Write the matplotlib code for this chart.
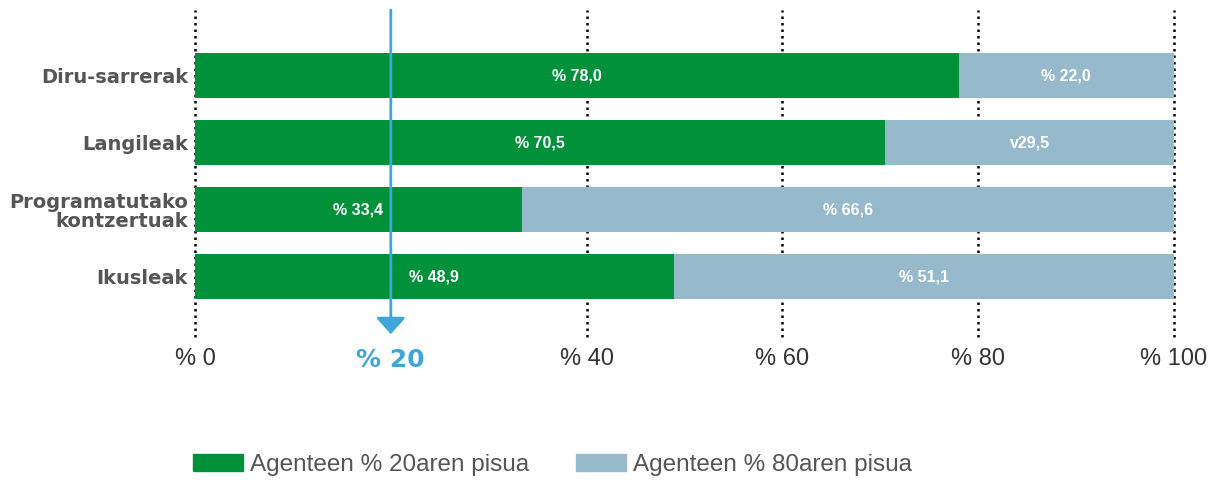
import matplotlib.pyplot as plt
from matplotlib.patches import Patch

categories = ["Diru-sarrerak", "Langileak", "Programatutako\nkontzertuak", "Ikusleak"]
top20 = [78.0, 70.5, 33.4, 48.9]
rest80 = [22.0, 29.5, 66.6, 51.1]
top20_labels = ["% 78,0", "% 70,5", "% 33,4", "% 48,9"]
rest80_labels = ["% 22,0", "v29,5", "% 66,6", "% 51,1"]
tick_values = [0, 20, 40, 60, 80, 100]
tick_labels = ["% 0", "% 20", "% 40", "% 60", "% 80", "% 100"]
legend_labels = ["Agenteen % 20aren pisua", "Agenteen % 80aren pisua"]

GREEN = "#00913a"
LIGHTBLUE = "#96b9cc"
ARROW = "#3fa6dc"

plt.rcParams["font.family"] = ["Liberation Sans", "DejaVu Sans"]

fig = plt.figure(figsize=(12.22, 4.93), dpi=100)
ax = fig.add_axes([195 / 1222, 1 - 337 / 493, (1174 - 195) / 1222, 327 / 493])

y = list(range(len(categories)))
ax.barh(y, top20, height=0.67, color=GREEN, zorder=3)
ax.barh(y, rest80, left=top20, height=0.67, color=LIGHTBLUE, zorder=3)

for i in y:
    ax.text(top20[i] / 2, i, top20_labels[i], ha="center", va="center",
            color="white", fontsize=11.5, fontweight="bold", zorder=4)
    ax.text(top20[i] + rest80[i] / 2, i, rest80_labels[i], ha="center", va="center",
            color="white", fontsize=11.5, fontweight="bold", zorder=4)

# dotted guides (20 is marked by the arrow instead)
for v in tick_values:
    if v == 20:
        continue
    ax.axvline(v, color="black", linestyle=(0, (1, 1.6)), lw=1.8, zorder=1, clip_on=False)

ax.set_xlim(0, 100)
ax.set_ylim(3.903, -0.978)
ax.annotate("", xy=(20, 3.86), xytext=(20, -0.978),
            arrowprops=dict(arrowstyle="-|>,head_length=0.5,head_width=0.45",
                            color=ARROW, lw=2, mutation_scale=20, shrinkA=0, shrinkB=0),
            zorder=5)

ax.set_yticks(y)
ax.set_yticklabels(categories, fontsize=14, fontweight="bold", color="#555555",
                   family="DejaVu Sans", linespacing=1.0)
ax.set_xticks(tick_values)
ax.set_xticklabels(tick_labels, fontsize=17, color="#333333")
ax.tick_params(axis="both", length=0)
ax.tick_params(axis="x", pad=8)
ax.tick_params(axis="y", pad=5)
lbl20 = ax.get_xticklabels()[1]
lbl20.set_color(ARROW)
lbl20.set_fontweight("bold")
lbl20.set_fontsize(18)
lbl20.set_family("DejaVu Sans")

for s in ax.spines.values():
    s.set_visible(False)

handles = [Patch(color=GREEN), Patch(color=LIGHTBLUE)]
fig.legend(handles, legend_labels, loc="center left", bbox_to_anchor=(171 / 1222, 1 - 465 / 493),
           ncol=2, frameon=False, fontsize=17.5, handlelength=2.06, handleheight=0.66,
           handletextpad=0.28, columnspacing=1.93, labelcolor="#555555")

fig.savefig("out.png", dpi=100)
